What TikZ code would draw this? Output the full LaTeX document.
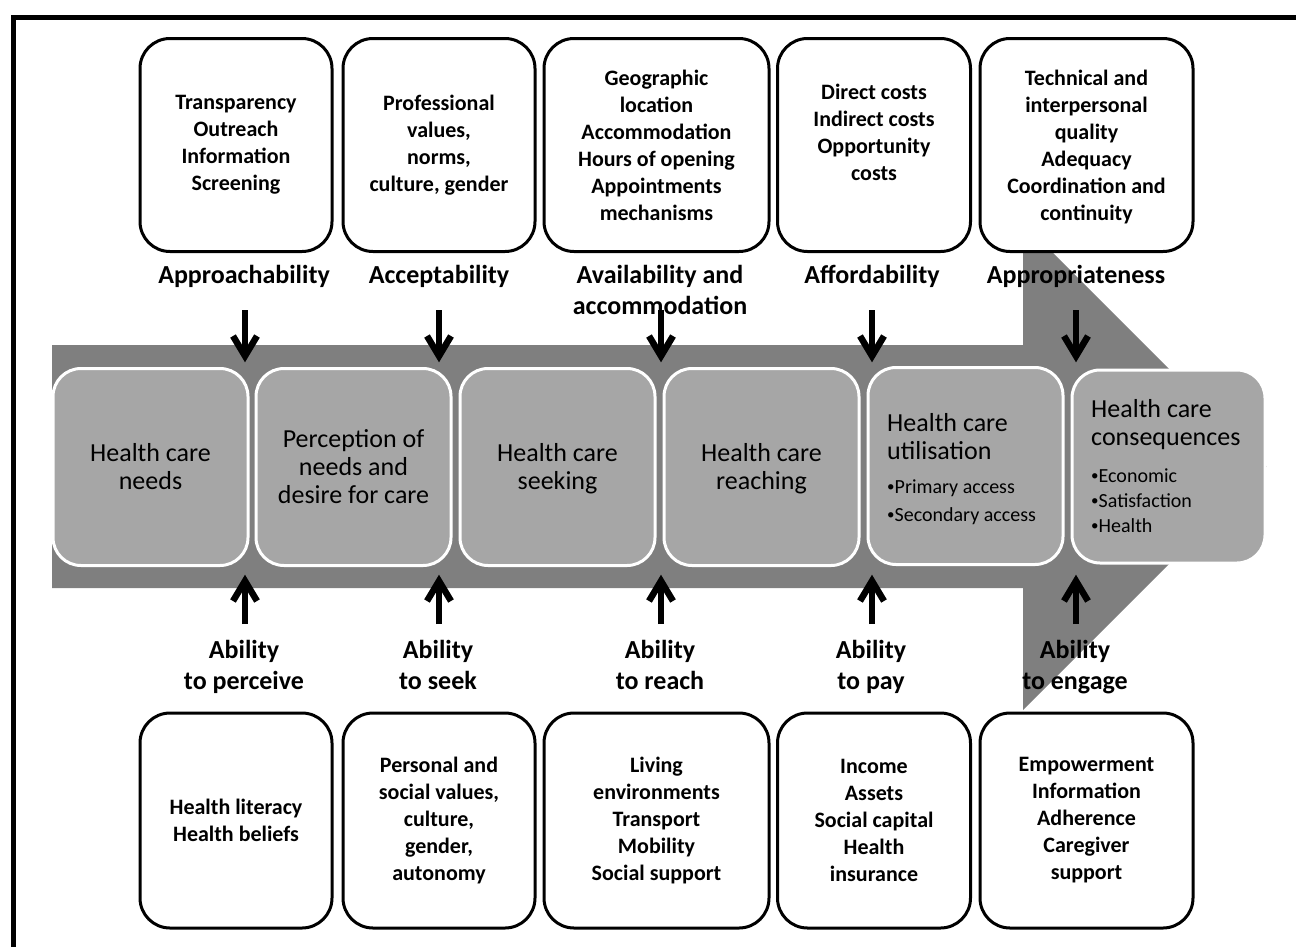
\documentclass[tikz,border=0pt]{standalone}
\usepackage{fontspec}
\setmainfont{Carlito}
\definecolor{bandgray}{RGB}{127,127,127}
\definecolor{boxgray}{RGB}{166,166,166}
\newcommand{\smbul}{\raisebox{1.2pt}{\fontsize{15}{15}\selectfont •}}
\begin{document}
\begin{tikzpicture}[x=1pt,y=-1pt,
  topbox/.style={draw=black, line width=3pt, rounded corners=30pt, fill=white,
    minimum width=#1, minimum height=213pt, align=center, inner sep=0pt,
    font=\bfseries\fontsize{22}{27}\selectfont},
  graybox/.style={draw=white, line width=3pt, fill=boxgray, rounded corners=28pt,
    minimum width=#1, minimum height=197pt, align=center, inner sep=0pt,
    font=\fontsize{26}{28}\selectfont},
  lab/.style={font=\bfseries\fontsize{26}{31}\selectfont, align=center, inner sep=0pt},
  gtitle/.style={font=\fontsize{26}{28}\selectfont, inner sep=0pt, anchor=base west},
  gbullet/.style={font=\fontsize{20}{27}\selectfont, inner sep=0pt, anchor=base west},
  shaft/.style={line width=6.5pt},
  barb/.style={line width=6.5pt, miter limit=10}
]
\useasboundingbox (0,0) rectangle (1296,946);

% frame
\draw[line width=5pt] (13,960) -- (13,17.5) -- (1310,17.5);

% big arrow
\fill[bandgray] (52,345) -- (1023,345) -- (1023,223) -- (1266.5,466.5)
  -- (1023,710) -- (1023,588) -- (52,588) -- cycle;

% gray process boxes
\node[graybox=195pt] (ga) at (150.5,467) {Health care\\needs};
\node[graybox=195pt] (gb) at (353.5,467) {Perception of\\needs and\\desire for care};
\node[graybox=195pt] (gc) at (557.5,467) {};
\node[inner sep=0pt, align=center, font=\fontsize{26}{28}\selectfont] (gct) at (557.5,469) {Health care\\seeking};
\node[graybox=195pt] (gd) at (761.5,467) {};
\node[inner sep=0pt, align=center, font=\fontsize{26}{28}\selectfont] (gdt) at (761.5,469) {Health care\\reaching};
\node[graybox=195pt] (ge) at (965.5,466) {};
\node[graybox=193pt, minimum height=193pt] (gf) at (1168.5,466.5) {};

\node[gtitle] (e1) at (887,431) {Health care};
\node[gtitle] (e2) at (887,459) {utilisation};
\node[gbullet] (e3) at (887,493) {\smbul Primary access};
\node[gbullet] (e4) at (887,521) {\smbul Secondary access};

\node[gtitle] (f1) at (1091,417) {Health care};
\node[gtitle] (f2) at (1091,445) {consequences};
\node[gbullet] (f3) at (1091,482) {\smbul Economic};
\node[gbullet] (f4) at (1091,507) {\smbul Satisfaction};
\node[gbullet] (f5) at (1091,532) {\smbul Health};

% top boxes
\node[topbox=192pt] (t1) at (236,145) {Transparency\\Outreach\\Information\\Screening};
\node[topbox=192pt] (t2) at (439,145) {Professional\\values,\\norms,\\culture, gender};
\node[topbox=225pt] (t3) at (656.5,145) {Geographic\\location\\Accommodation\\Hours of opening\\Appointments\\mechanisms};
\node[topbox=193pt] (t4) at (874,145) {};
\node[inner sep=0pt, align=center, font=\bfseries\fontsize{22}{27}\selectfont] (t4t) at (874,132) {Direct costs\\Indirect costs\\Opportunity\\costs};
\node[topbox=213pt] (t5) at (1086.5,145) {};
\node[inner sep=0pt, align=center, font=\bfseries\fontsize{22}{27}\selectfont] (t5t) at (1086.5,147) {Technical and\\interpersonal\\quality\\Adequacy\\Coordination and\\continuity};

% bottom boxes
\node[topbox=192pt, minimum height=215pt] (u1) at (236,820.5) {Health literacy\\Health beliefs};
\node[topbox=192pt, minimum height=215pt] (u2) at (439,820.5) {Personal and\\social values,\\culture,\\gender,\\autonomy};
\node[topbox=225pt, minimum height=215pt] (u3) at (656.5,820.5) {Living\\environments\\Transport\\Mobility\\Social support};
\node[topbox=193pt, minimum height=215pt] (u4) at (874,820.5) {Income\\Assets\\Social capital\\Health\\insurance};
\node[topbox=213pt, minimum height=215pt] (u5) at (1086.5,820.5) {Empowerment\\Information\\Adherence\\Caregiver\\support};

% top labels
\node[lab] (l1) at (244,276.8) {\strut Approachability};
\node[lab] (l2) at (439,276.8) {\strut Acceptability};
\node[lab] (l3) at (660,292.3) {\strut Availability and\\\strut accommodation};
\node[lab] (l4) at (872,276.8) {\strut Affordability};
\node[lab] (l5) at (1076,276.8) {\strut Appropriateness};

% bottom labels
\node[lab] (m1) at (244,667.3) {\strut Ability\\\strut to perceive};
\node[lab] (m2) at (438,667.3) {\strut Ability\\\strut to seek};
\node[lab] (m3) at (660,667.3) {\strut Ability\\\strut to reach};
\node[lab] (m4) at (871,667.3) {\strut Ability\\\strut to pay};
\node[lab] (m5) at (1075,667.3) {\strut Ability\\\strut to engage};

% arrows
\foreach \i/\x in {1/245,2/439,3/661,4/872,5/1076}{
  \coordinate (ds\i) at (\x,310);
  \coordinate (de\i) at (\x,356);
  \coordinate (us\i) at (\x,624);
  \coordinate (ue\i) at (\x,581);
}
\foreach \i in {1,...,5}{
  \draw[shaft] (ds\i) -- (de\i);
  \draw[barb] ([shift={(-12,-20)}]de\i) -- (de\i) -- ([shift={(12,-20)}]de\i);
  \draw[shaft] (us\i) -- (ue\i);
  \draw[barb] ([shift={(-12,20)}]ue\i) -- (ue\i) -- ([shift={(12,20)}]ue\i);
}
\end{tikzpicture}
\end{document}
